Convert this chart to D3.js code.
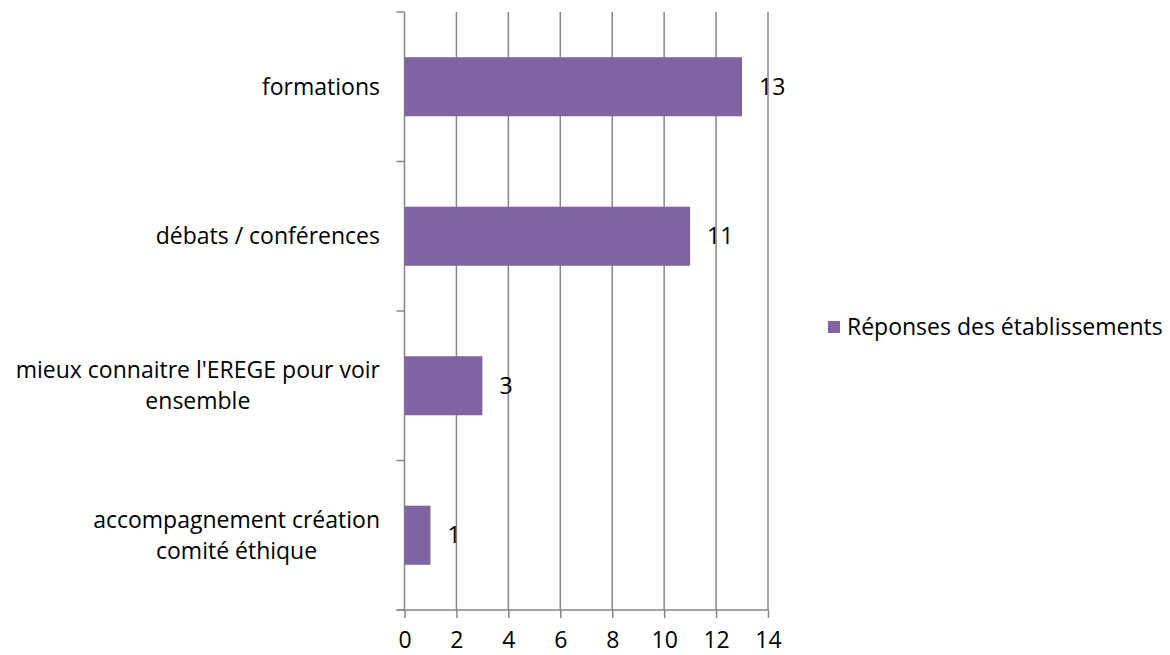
<!DOCTYPE html>
<html>
<head>
<meta charset="utf-8">
<script src="https://cdn.jsdelivr.net/npm/d3@7"></script>
<style>
  body { margin: 0; background: #fff; }
  text { font-family: "Open Sans", sans-serif; fill: #000; }
</style>
</head>
<body>
<svg width="1170" height="655"></svg>
<script>
// data
let categories = ["formations", "débats / conférences", "mieux connaitre l'EREGE pour voir ensemble", "accompagnement création comité éthique"];
let labelLines = [["formations"], ["débats / conférences"], ["mieux connaitre l'EREGE pour voir", "ensemble"], ["accompagnement création", "comité éthique"]];
let values = [13, 11, 3, 1];
let xTicks = [0, 2, 4, 6, 8, 10, 12, 14];
let seriesName = "Réponses des établissements";

let svg = d3.select("svg"),
  plotLeft = 404.5, plotRight = 768, plotTop = 12, plotBottom = 610,
  barColor = "#8064A2", gridColor = "#868686", fontSize = "23px";

let x = d3.scaleLinear().domain([0, 14]).range([plotLeft, plotRight]);
let y = d3.scaleBand().domain(categories).range([plotTop, plotBottom]).paddingInner(0.605).paddingOuter(0.3025);

// gridlines
svg.append("g").selectAll("line")
  .data(xTicks.slice(1))
  .enter().append("line")
  .attr("x1", d => x(d)).attr("x2", d => x(d))
  .attr("y1", plotTop).attr("y2", plotBottom)
  .attr("stroke", gridColor).attr("stroke-width", 1.5);

// x axis
let xAxis = svg.append("g")
  .attr("transform", "translate(0," + plotBottom + ")")
  .call(d3.axisBottom(x).tickValues(xTicks).tickSize(8).tickPadding(14));
xAxis.select(".domain").attr("d", "M" + (plotLeft - 8) + ",0H" + plotRight).attr("stroke", gridColor).attr("stroke-width", 1.5);
xAxis.selectAll(".tick line").attr("stroke", gridColor).attr("stroke-width", 1.5);
xAxis.selectAll(".tick text").style("font-size", fontSize).attr("font-family", "'Open Sans', sans-serif");

// y axis line + ticks at band boundaries
let step = (plotBottom - plotTop) / categories.length;
let yb = d3.range(categories.length + 1).map(i => plotTop + i * step);
svg.append("line")
  .attr("x1", plotLeft).attr("x2", plotLeft).attr("y1", plotTop).attr("y2", plotBottom)
  .attr("stroke", gridColor).attr("stroke-width", 1.5);
svg.append("g").selectAll("line")
  .data(yb)
  .enter().append("line")
  .attr("x1", plotLeft - 8).attr("x2", plotLeft)
  .attr("y1", d => d).attr("y2", d => d)
  .attr("stroke", gridColor).attr("stroke-width", 1.5);

// bars
svg.append("g").selectAll("rect")
  .data(values)
  .enter().append("rect")
  .attr("x", x(0))
  .attr("y", (d, i) => y(categories[i]))
  .attr("width", d => x(d) - x(0))
  .attr("height", y.bandwidth())
  .attr("fill", barColor);

// value labels
svg.append("g").selectAll("text")
  .data(values)
  .enter().append("text")
  .attr("x", d => x(d) + 17)
  .attr("y", (d, i) => y(categories[i]) + y.bandwidth() / 2)
  .attr("dy", "0.35em")
  .style("font-size", fontSize)
  .text(d => d);

// category labels
let lineH = 31;
categories.forEach((c, i) => {
  let lines = labelLines[i];
  let cy = y(c) + y.bandwidth() / 2;
  let g = svg.append("g");
  let texts = lines.map((l, j) => g.append("text")
    .attr("y", cy + (j - (lines.length - 1) / 2) * lineH)
    .attr("dy", "0.35em")
    .attr("text-anchor", "middle")
    .style("font-size", fontSize)
    .text(l));
  let w = d3.max(texts, t => t.node().getComputedTextLength());
  texts.forEach(t => t.attr("x", 380 - w / 2));
});

// legend
let lg = svg.append("g").attr("transform", "translate(828,321)");
lg.append("rect").attr("width", 12).attr("height", 12).attr("fill", barColor);
lg.append("text").attr("x", 19).attr("y", 6).attr("dy", "0.35em").style("font-size", fontSize).text(seriesName);
</script>
</body>
</html>
